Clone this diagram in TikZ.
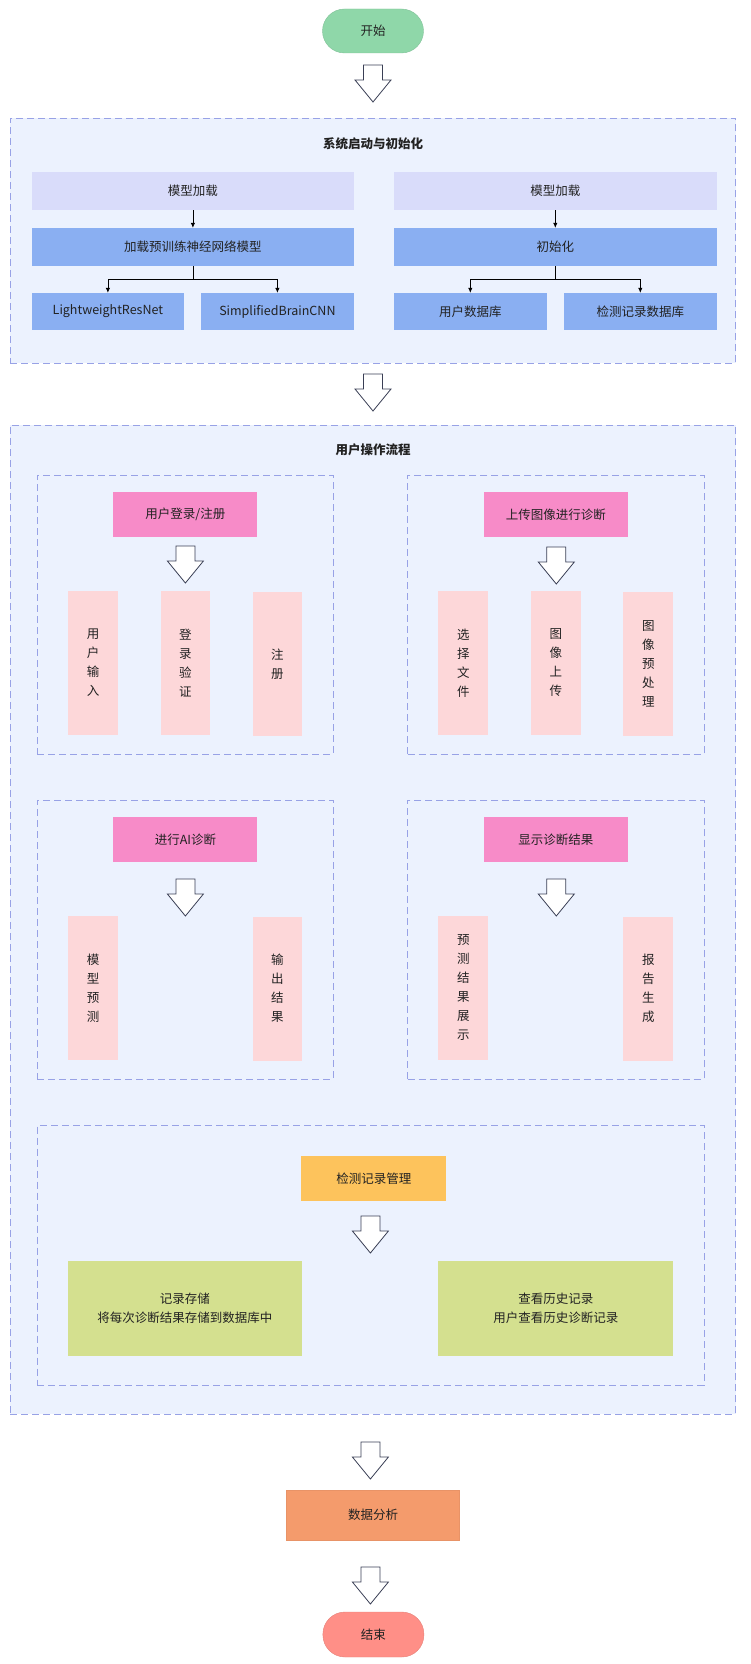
\documentclass[tikz,border=0pt]{standalone}
\usepackage{fontspec}
\setmainfont{Noto Sans CJK SC}
\usetikzlibrary{arrows.meta, fit, positioning}

\definecolor{groupfill}{HTML}{ECF2FE}
\definecolor{groupline}{HTML}{98A2E6}
\definecolor{startgreen}{HTML}{8FD7A9}
\definecolor{endred}{HTML}{FF8F87}
\definecolor{lavender}{HTML}{D9DCFA}
\definecolor{midblue}{HTML}{8AAFF2}
\definecolor{hotpink}{HTML}{F78BC8}
\definecolor{palepink}{HTML}{FDD7D9}
\definecolor{amber}{HTML}{FDC35C}
\definecolor{olive}{HTML}{D4E08F}
\definecolor{salmon}{HTML}{F49B6C}
\definecolor{arrowline}{HTML}{3A3F55}
\definecolor{textdark}{HTML}{222222}

\begin{document}
\begin{tikzpicture}[x=1pt, y=-1pt,
  font=\fontsize{12.5}{19}\selectfont, text=textdark,
  group/.style={draw=groupline, fill=groupfill, dash pattern=on 7pt off 4pt, line width=0.9pt, inner sep=0pt},
  terminal/.style={rounded corners=22pt, minimum width=101pt, minimum height=44pt, inner sep=0pt},
  box/.style={minimum height=38pt, inner sep=0pt},
  header/.style={box, fill=hotpink, minimum width=144pt, minimum height=45pt},
  tallbox/.style={fill=palepink, minimum width=49.7pt, minimum height=144pt, inner sep=0pt, align=center},
  wide/.style={fill=olive, minimum width=234.7pt, minimum height=95pt, inner sep=0pt, align=center},
  thinarrow/.style={draw=black, line width=0.7pt, -{Latex[length=5pt,width=4.5pt]}},
  hollowarrow/.pic={
    \draw[arrowline, fill=white, line width=0.8pt, line join=miter]
      (-9.5,0) -- (9.5,0) -- (9.5,15) -- (18,15) -- (0,37) -- (-18,15) -- (-9.5,15) -- cycle;
  }
]
\useasboundingbox (0,0) rectangle (750,1664);

% start
\node[terminal, fill=startgreen, draw=startgreen!90!black] (start) at (373,31) {开始};
\pic at (373,65) {hollowarrow};

% system start-up
\node[group, fit={(10.4,118) (735.8,363)}] (sys) {};
\node[font=\fontsize{12.5}{19}\selectfont\bfseries] (systitle) at (373,144) {系统启动与初始化};

\node[box, fill=lavender, minimum width=322pt] (load1) at (192.9,191) {模型加载};
\node[box, fill=midblue, minimum width=322pt] (loadnet) at (192.9,247) {加载预训练神经网络模型};
\node[box, fill=midblue, minimum width=152pt, minimum height=37pt] (resnet) at (107.9,311.5) {LightweightResNet};
\node[box, fill=midblue, minimum width=153pt, minimum height=37pt] (braincnn) at (277.4,311.5) {SimplifiedBrainCNN};

\node[box, fill=lavender, minimum width=323pt] (load2) at (555.3,191) {模型加载};
\node[box, fill=midblue, minimum width=323pt] (init) at (555.3,247) {初始化};
\node[box, fill=midblue, minimum width=153pt, minimum height=37pt] (userdb) at (470.3,311.5) {用户数据库};
\node[box, fill=midblue, minimum width=153pt, minimum height=37pt] (recdb) at (640.3,311.5) {检测记录数据库};

\draw[thinarrow] (load1) -- (loadnet);
\draw[thinarrow] (loadnet.south) -- ++(0,13) -| (resnet.north);
\draw[thinarrow] (loadnet.south) -- ++(0,13) -| (braincnn.north);
\draw[thinarrow] (load2) -- (init);
\draw[thinarrow] (init.south) -- ++(0,13) -| (userdb.north);
\draw[thinarrow] (init.south) -- ++(0,13) -| (recdb.north);

\pic at (373,374) {hollowarrow};

% user operations
\node[group, fit={(10.4,425) (735.8,1414)}] (ops) {};
\node[font=\fontsize{12.5}{19}\selectfont\bfseries] (opstitle) at (373,450) {用户操作流程};

% login
\node[group, fit={(37.3,475) (333.1,754)}] (loginbox) {};
\node[header] (login) at (185.4,514.5) {用户登录/注册};
\pic at (185.4,546) {hollowarrow};
\node[tallbox] (input) at (93,663) {用\\户\\输\\入};
\node[tallbox] (verify) at (185.4,663) {登\\录\\验\\证};
\node[tallbox] (register) at (277.4,664) {注\\册};

% upload
\node[group, fit={(407.7,475) (704,754)}] (uploadbox) {};
\node[header] (upload) at (555.8,514.5) {上传图像进行诊断};
\pic at (556.3,547) {hollowarrow};
\node[tallbox] (choose) at (463.3,663) {选\\择\\文\\件};
\node[tallbox] (send) at (555.8,663) {图\\像\\上\\传};
\node[tallbox] (prep) at (648.3,664) {图\\像\\预\\处\\理};

% AI diagnosis
\node[group, fit={(37.3,800) (333.1,1079)}] (aibox) {};
\node[header] (ai) at (185.4,839.5) {进行AI诊断};
\pic at (185.4,879) {hollowarrow};
\node[tallbox] (predict) at (93,988) {模\\型\\预\\测};
\node[tallbox] (output) at (277.4,988.5) {输\\出\\结\\果};

% show results
\node[group, fit={(407.7,800) (704,1079)}] (showbox) {};
\node[header] (show) at (555.8,839.5) {显示诊断结果};
\pic at (556.3,879) {hollowarrow};
\node[tallbox] (display) at (463.3,988) {预\\测\\结\\果\\展\\示};
\node[tallbox] (report) at (648.3,988.5) {报\\告\\生\\成};

% records
\node[group, fit={(37.3,1125) (704,1385)}] (recbox) {};
\node[header, fill=amber, minimum width=145pt] (records) at (373.9,1178.5) {检测记录管理};
\pic at (370.4,1216) {hollowarrow};
\node[wide] (store) at (184.9,1308.5) {记录存储\\将每次诊断结果存储到数据库中};
\node[wide] (history) at (555.8,1308.5) {查看历史记录\\用户查看历史诊断记录};

% analysis and end
\pic at (370.4,1442) {hollowarrow};
\node[box, fill=salmon, draw=salmon!95!black, minimum width=173pt, minimum height=50pt] (analysis) at (373,1515) {数据分析};
\pic at (370.4,1567) {hollowarrow};
\node[terminal, fill=endred, draw=endred!90!black, minimum height=45pt] (end) at (373.4,1634.5) {结束};
\end{tikzpicture}
\end{document}
